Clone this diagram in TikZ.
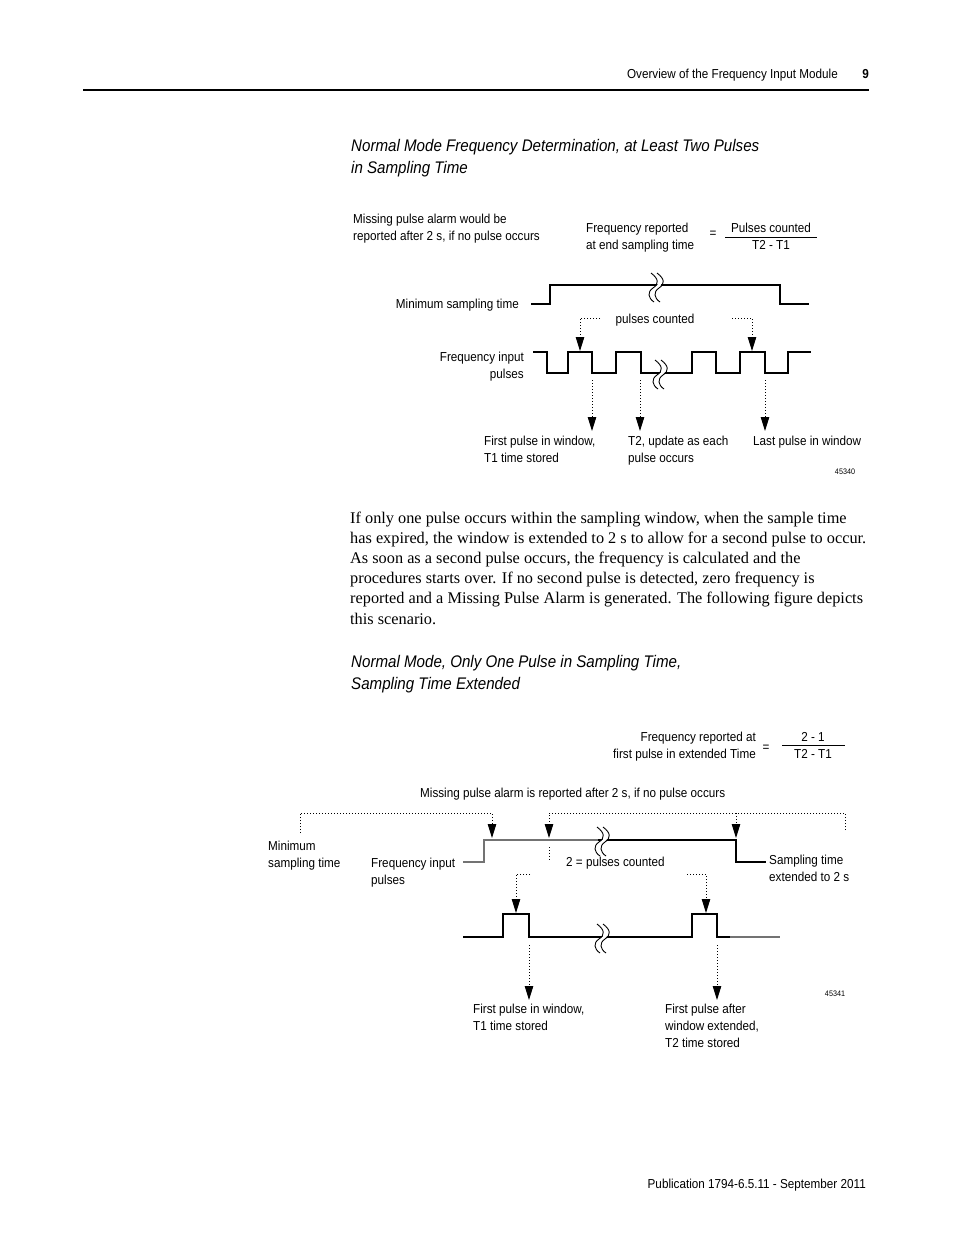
\documentclass[tikz,border=0pt]{standalone}
\usepackage{fontspec}
\setmainfont{Liberation Serif}
\newfontfamily\condsans[FakeStretch=0.9]{Liberation Sans}
\usepackage{tikz}
\usetikzlibrary{arrows.meta,positioning}
\newcommand{\lblfont}{\condsans\fontsize{13}{17}\selectfont}
\newcommand{\ttlfont}{\condsans\itshape\fontsize{16.8}{22}\selectfont}

\begin{document}
\begin{tikzpicture}[x=1pt, y=-1pt,
    lbl/.style={font=\lblfont, inner sep=0pt, align=left, anchor=base west},
    lblr/.style={lbl, align=right, anchor=base east},
    wave/.style={line width=1.3pt},
    faint/.style={wave, black!55},
    dots/.style={line width=0.9pt, dash pattern=on 0.9pt off 2.1pt},
    darr/.style={dots, -{Triangle[length=14pt,width=8.5pt]}},
    brk/.pic={
        \draw[white, line width=3pt] (0,-14) .. controls (8,-8) and (8,-3) .. (2,1) .. controls (-4,5) and (-3,11) .. (3,15);
        \draw[line width=0.9pt] (-3,-14) .. controls (5,-8) and (5,-3) .. (-1,1) .. controls (-7,5) and (-6,11) .. (0,15);
        \draw[line width=0.9pt] (3,-14) .. controls (11,-8) and (11,-3) .. (5,1) .. controls (-1,5) and (0,11) .. (6,15);
    }
]
    \useasboundingbox (0,0) rectangle (954,1235);

    % page head
    \node[lblr] (head) at (838,78) {Overview of the Frequency Input Module};
    \node[lblr, font=\lblfont\bfseries] (pageno) at (869,78) {9};
    \draw[line width=2.6pt] (83,90) -- (869,90);

    % first figure (multi-line nodes sit on their last baseline)
    \node[lbl, font=\ttlfont] (title1) at (351,173)
        {Normal Mode Frequency Determination, at Least Two Pulses\\in Sampling Time};

    \node[lbl] (alarm1) at (353,240) {Missing pulse alarm would be\\reported after 2 s, if no pulse occurs};
    \node[lbl] (freq1) at (586,249) {Frequency reported\\at end sampling time};
    \node[lbl, anchor=center] (eq1) at (713,234) {=};
    \node[lbl, anchor=base] (num1) at (771,232) {Pulses counted};
    \node[lbl, anchor=base] (den1) at (771,249) {T2 - T1};
    \draw[line width=0.8pt] (725,237) -- (817,237);

    \node[lblr] (minst) at (519,308) {Minimum sampling time};
    \draw[wave] (531,304) -- (550,304) -- (550,285) -- (780,285) -- (780,304) -- (809,304);
    \pic at (654,287) {brk};

    \node[lbl, anchor=base] (cnt1) at (655,323) {pulses counted};
    \node[lblr] (fin1) at (524,378) {Frequency input\\pulses};
    \draw[wave] (533,352) -- (547,352) -- (547,373) -- (568,373) -- (568,352) -- (592,352)
        -- (592,373) -- (616,373) -- (616,352) -- (641,352) -- (641,373) -- (692,373)
        -- (692,352) -- (716,352) -- (716,373) -- (740,373) -- (740,352) -- (765,352)
        -- (765,373) -- (788,373) -- (788,352) -- (811,352);
    \pic at (658,374) {brk};

    \coordinate (a1) at (600,318);
    \coordinate (a2) at (732,318);
    \coordinate (h1) at (580,351);
    \coordinate (h2) at (752,351);
    \draw[darr] (a1) -| (h1);
    \draw[darr] (a2) -| (h2);
    \foreach \px/\nm in {592/t1, 640/t2, 765/t3} {
        \coordinate (\nm s) at (\px,380);
        \coordinate (\nm e) at (\px,431);
        \draw[darr] (\nm s) -- (\nm e);
    }

    \node[lbl] (first1) at (484,462) {First pulse in window,\\T1 time stored};
    \node[lbl] (upd1) at (628,462) {T2, update as each\\pulse occurs};
    \node[lbl] (last1) at (753,445) {Last pulse in window};
    \node[lbl, anchor=center, font=\condsans\fontsize{8}{9}\selectfont] (id1) at (845,472) {45340};

    % running text
    \node[lbl, font=\fontsize{16.3}{20.2}\selectfont] (para) at (350,624)
        {If only one pulse occurs within the sampling window, when the sample time\\
         has expired, the window is extended to 2 s to allow for a second pulse to occur.\\
         As soon as a second pulse occurs, the frequency is calculated and the\\
         procedures starts over. If no second pulse is detected, zero frequency is\\
         reported and a Missing Pulse Alarm is generated. The following figure depicts\\
         this scenario.};

    % second figure
    \node[lbl, font=\ttlfont] (title2) at (351,689)
        {Normal Mode, Only One Pulse in Sampling Time,\\Sampling Time Extended};

    \node[lblr] (freq2) at (756,758) {Frequency reported at\\first pulse in extended Time};
    \node[lbl, anchor=center] (eq2) at (766,748) {=};
    \node[lbl, anchor=base] (num2) at (813,741) {2 - 1};
    \node[lbl, anchor=base] (den2) at (813,758) {T2 - T1};
    \draw[line width=0.8pt] (782,745) -- (845,745);

    \node[lbl] (alarm2) at (420,797) {Missing pulse alarm is reported after 2 s, if no pulse occurs};
    \node[lbl] (minst2) at (268,867) {Minimum\\sampling time};
    \node[lbl] (fin2) at (371,884) {Frequency input\\pulses};
    \node[lbl] (cnt2) at (566,866) {2 = pulses counted};
    \node[lbl] (ext2) at (769,881) {Sampling time\\extended to 2 s};

    \draw[faint] (463,862) -- (484,862) -- (484,840) -- (598,840);
    \draw[wave] (598,840) -- (736,840) -- (736,862) -- (766,862);
    \pic at (600,841) {brk};

    \coordinate (m0) at (300,833);
    \coordinate (m1) at (492,838);
    \coordinate (m2) at (845,830);
    \coordinate (m3) at (549,838);
    \coordinate (m4) at (736,813);
    \coordinate (m5) at (736,838);
    \coordinate (m6) at (549,847);
    \coordinate (m7) at (549,861);
    \draw[darr] (m0) |- (492,813) -- (m1);
    \draw[darr] (m2) |- (549,813) -- (m3);
    \draw[darr] (m4) -- (m5);
    \draw[dots] (m6) -- (m7);

    \draw[wave] (463,937) -- (503,937) -- (503,914) -- (529,914) -- (529,937) -- (692,937)
        -- (692,914) -- (717,914) -- (717,937) -- (730,937);
    \draw[faint] (730,937) -- (780,937);
    \pic at (600,938) {brk};

    \coordinate (b1) at (530,874);
    \coordinate (b2) at (687,874);
    \coordinate (k1) at (516,913);
    \coordinate (k2) at (706,913);
    \draw[darr] (b1) -| (k1);
    \draw[darr] (b2) -| (k2);
    \foreach \px/\nm in {529/u1, 717/u2} {
        \coordinate (\nm s) at (\px,945);
        \coordinate (\nm e) at (\px,1000);
        \draw[darr] (\nm s) -- (\nm e);
    }

    \node[lbl] (first2) at (473,1030) {First pulse in window,\\T1 time stored};
    \node[lbl] (after2) at (665,1047) {First pulse after\\window extended,\\T2 time stored};
    \node[lbl, anchor=center, font=\condsans\fontsize{8}{9}\selectfont] (id2) at (835,994) {45341};

    % page foot
    \node[lblr] (foot) at (866,1188) {Publication 1794-6.5.11 - September 2011};
\end{tikzpicture}
\end{document}
